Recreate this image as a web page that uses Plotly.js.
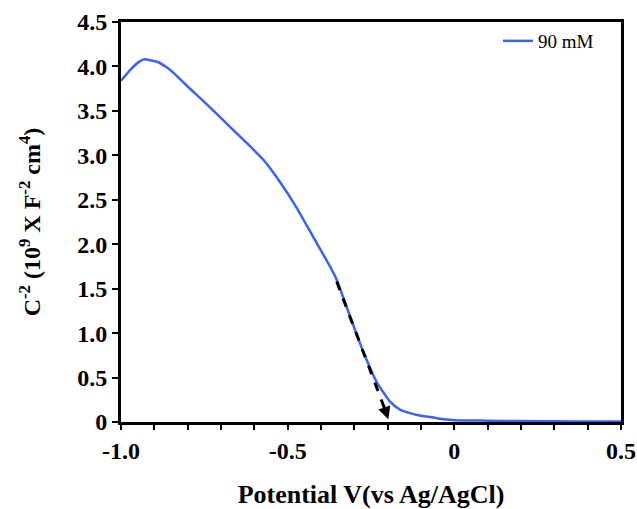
<!DOCTYPE html>
<html><head><meta charset="utf-8">
<script src="https://cdn.plot.ly/plotly-3.0.1.min.js"></script>
<style>body{margin:0;background:#fff}#c{width:637px;height:509px}</style>
</head><body><div id="c"></div>
<script>
const potential = [-1.0, -0.97, -0.95, -0.93, -0.913, -0.89, -0.863, -0.84, -0.813, -0.773, -0.733, -0.673, -0.623, -0.573, -0.523, -0.473, -0.423, -0.373, -0.353, -0.313, -0.273, -0.233, -0.193, -0.163, -0.133, -0.1, -0.063, -0.03, 0.0, 0.1, 0.2, 0.3, 0.4, 0.5];
const capInv2 = [3.84, 3.97, 4.04, 4.08, 4.07, 4.05, 3.99, 3.92, 3.82, 3.68, 3.54, 3.32, 3.14, 2.95, 2.70, 2.41, 2.08, 1.75, 1.60, 1.19, 0.79, 0.45, 0.23, 0.14, 0.10, 0.07, 0.05, 0.03, 0.02, 0.015, 0.01, 0.008, 0.006, 0.005];
const seriesName = "90 mM";
const fitX = [-0.353, -0.207];
const fitY = [1.58, 0.13];
const arrowTip = [-0.198, 0.03];
const xTickVals = [-1.0, -0.5, 0, 0.5];
const xTickText = ["-1.0", "-0.5", "0", "0.5"];
const yTickVals = [0, 0.5, 1.0, 1.5, 2.0, 2.5, 3.0, 3.5, 4.0, 4.5];
const yTickText = ["0", "0.5", "1.0", "1.5", "2.0", "2.5", "3.0", "3.5", "4.0", "4.5"];

const serif = "Liberation Serif, Times New Roman, serif";
const traces = [
  {x: potential, y: capInv2, mode: "lines", name: seriesName, line: {color: "#3a63f5", width: 2.5, shape: "spline", smoothing: 0.5}},
  {x: fitX, y: fitY, mode: "lines", showlegend: false, line: {color: "#000", width: 3, dash: "dash"}, hoverinfo: "skip"}
];
const layout = {
  width: 637, height: 509,
  margin: {l: 121, r: 16, t: 22, b: 87},
  paper_bgcolor: "#fff", plot_bgcolor: "#fff",
  font: {family: serif, color: "#000"},
  showlegend: true,
  legend: {x: 0.754, xanchor: "left", y: 1, yanchor: "top", bgcolor: "rgba(0,0,0,0)", font: {family: serif, size: 19, color: "#000"}, itemwidth: 30},
  xaxis: {
    range: [-1.0, 0.5], showgrid: false, zeroline: false,
    showline: true, linecolor: "#000", linewidth: 3, mirror: true,
    tickvals: xTickVals, ticktext: xTickText,
    ticks: "outside", ticklen: 5, tickwidth: 2, tickcolor: "#000",
    minor: {dtick: 0.1, ticks: "outside", ticklen: 5, tickwidth: 2, tickcolor: "#000"},
    tickfont: {family: serif, size: 24, weight: "bold"},
    title: {text: "<b>Potential V(vs Ag/AgCl)</b>", font: {family: serif, size: 26}, standoff: 24}
  },
  yaxis: {
    range: [0, 4.5], showgrid: false, zeroline: false,
    showline: true, linecolor: "#000", linewidth: 3, mirror: true,
    tickvals: yTickVals, ticktext: yTickText,
    ticks: "outside", ticklen: 6, tickwidth: 2, tickcolor: "#000",
    tickfont: {family: serif, size: 24, weight: "bold"},
    title: {text: "<b>C<sup>-2</sup> (10<sup>9</sup> X F<sup>-2</sup> cm<sup>4</sup>)</b>", font: {family: serif, size: 24}, standoff: 30}
  },
  annotations: [{
    x: arrowTip[0], y: arrowTip[1], xref: "x", yref: "y",
    ax: fitX[1], ay: fitY[1], axref: "x", ayref: "y",
    showarrow: true, arrowhead: 2, arrowsize: 1, arrowwidth: 2.5, arrowcolor: "#000", text: ""
  }]
};
Plotly.newPlot("c", traces, layout, {displayModeBar: false, staticPlot: true});
</script></body></html>
